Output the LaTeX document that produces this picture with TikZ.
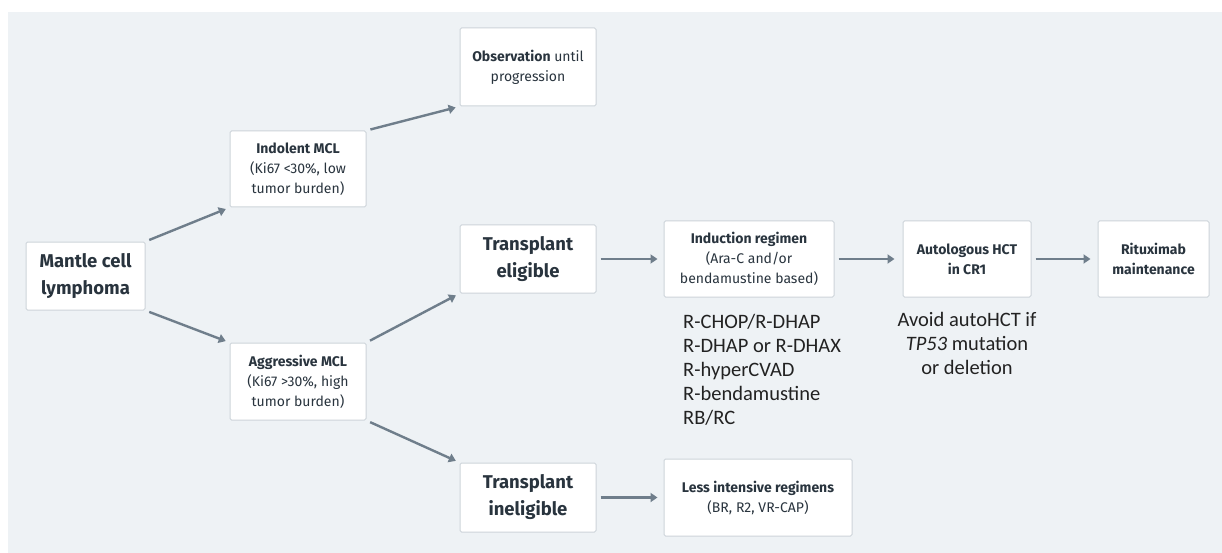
\documentclass[tikz,border=0pt]{standalone}
\usepackage{fontspec}
\setmainfont{Fira Sans}
\newfontfamily\calib{Carlito}
\usetikzlibrary{arrows.meta}

\definecolor{bggray}{HTML}{EEF2F5}
\definecolor{boxline}{HTML}{CDD4DA}
\definecolor{ink}{HTML}{29343E}
\definecolor{arrowgray}{HTML}{6F7E8B}
\definecolor{notegray}{HTML}{222222}

\begin{document}
\begin{tikzpicture}[x=1pt,y=-1pt]
	\tikzstyle{block}=[draw=boxline,fill=white,rounded corners=1.5pt,line width=1pt,align=center,text=ink,inner sep=2pt]
	\tikzstyle{small}=[block,font=\fontsize{14}{20}\selectfont]
	\tikzstyle{large}=[block,font=\bfseries\fontsize{18.5}{27}\selectfont]
	\tikzstyle{edge}=[draw=arrowgray,line width=2.4pt,-{Triangle[width=9pt,length=7pt]},shorten >=4pt,shorten <=4pt]
	\tikzstyle{note}=[font=\calib\fontsize{20.5}{24}\selectfont,text=notegray,inner sep=0pt]

	\useasboundingbox (0,0) rectangle (1222,553);
	\fill[bggray] (8,12) rectangle (1222,553);

	\begin{scope}
		% first split
		\node [large, minimum width=119pt, minimum height=68pt] (mcl) at (85.5,276) {Mantle cell\\lymphoma};
		\node [small, minimum width=136pt, minimum height=76pt] (ind) at (298,169) {\textbf{Indolent MCL}\\(Ki67 <30\%, low\\tumor burden)};
		\node [small, minimum width=136pt, minimum height=77pt] (agg) at (298,381.5) {\textbf{Aggressive MCL}\\(Ki67 >30\%, high\\tumor burden)};

		% second split
		\node [small, minimum width=136pt, minimum height=78pt] (obs) at (528,67) {\textbf{Observation} until\\progression};
		\node [large, minimum width=136pt, minimum height=68pt] (elig) at (528,259) {Transplant\\eligible};
		\node [large, minimum width=136pt, minimum height=69pt] (inel) at (528,497.5) {Transplant\\ineligible};

		% treatment line
		\node [small, minimum width=170pt, minimum height=76pt] (indu) at (749,259) {\textbf{Induction regimen}\\(Ara-C and/or\\bendamustine based)};
		\node [small, font=\bfseries\fontsize{14}{20}\selectfont, minimum width=128pt, minimum height=76pt] (auto) at (967,259) {Autologous HCT\\in CR1};
		\node [small, font=\bfseries\fontsize{14}{20}\selectfont, minimum width=111pt, minimum height=76pt] (ritux) at (1153.5,259) {Rituximab\\maintenance};
		\node [small, minimum width=188pt, minimum height=77pt] (less) at (758,497.5) {\textbf{Less intensive regimens}\\(BR, R2, VR-CAP)};

		% notes
		\node [note, anchor=north west, align=left] (regs) at (683,314) {R-CHOP/R-DHAP\\R-DHAP or R-DHAX\\R-hyperCVAD\\R-bendamustine\\RB/RC};
		\node [note, anchor=north, align=center] (avoid) at (967,312) {Avoid autoHCT if\\\textit{TP53} mutation\\or deletion};

		\path (mcl.north east) edge[edge] (ind.south west);
		\path (mcl.south east) edge[edge] (agg.north west);
		\path (ind.north east) edge[edge] (obs.south west);
		\path (agg.north east) edge[edge] (elig.south west);
		\path (agg.south east) edge[edge] (inel.north west);

		\path (elig) edge[edge, shorten >=6pt] (indu);
		\path (indu) edge[edge, shorten >=8pt] (auto);
		\path (auto) edge[edge, shorten >=7pt] (ritux);
		\path (inel) edge[edge, shorten >=6pt] (less);
	\end{scope}
\end{tikzpicture}
\end{document}
